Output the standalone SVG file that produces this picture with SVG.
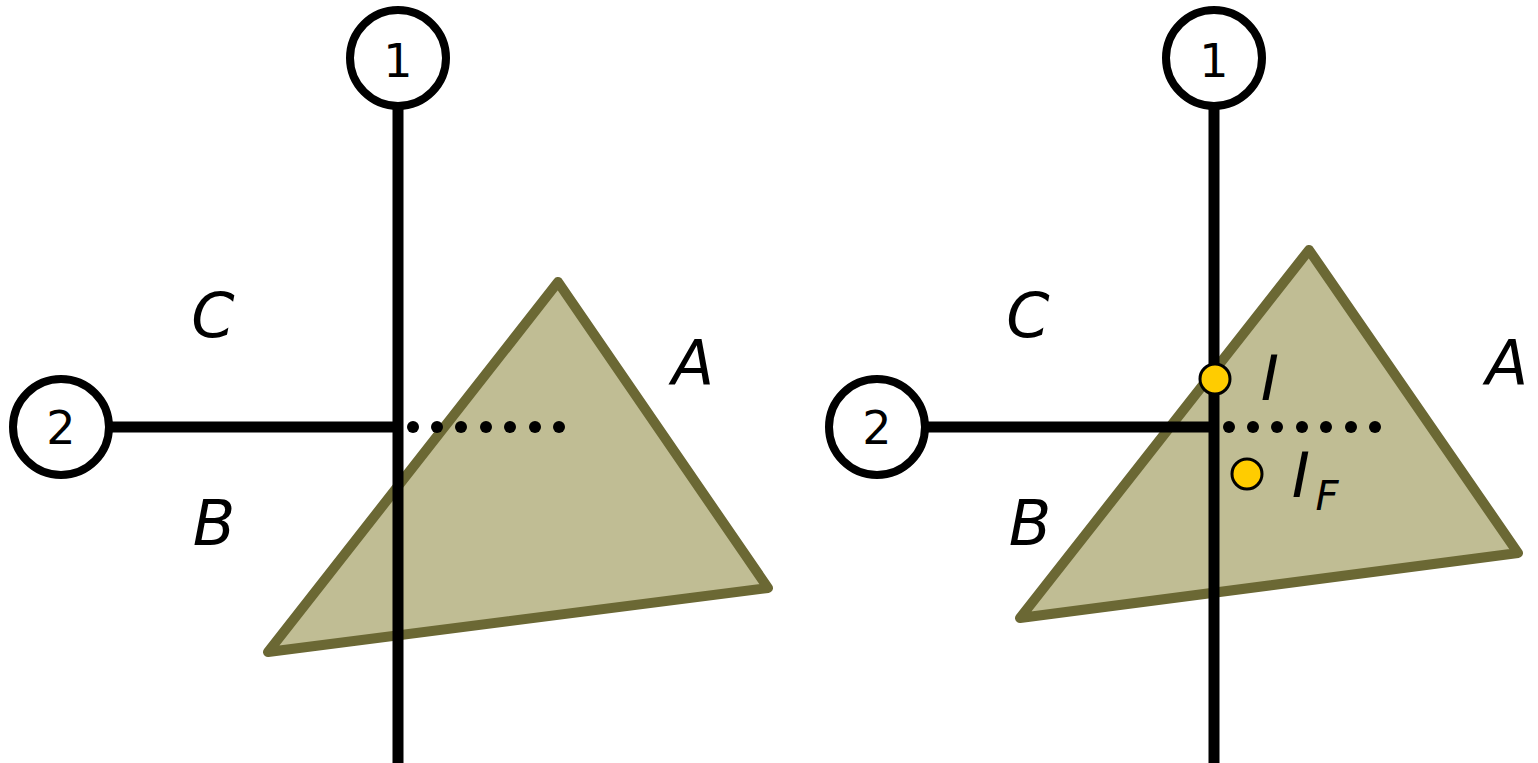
<svg xmlns="http://www.w3.org/2000/svg" width="1538" height="763" viewBox="0 0 1538 763">
<style>
.tri{fill:#c0bd94;stroke:#6b6834;stroke-width:10;stroke-linejoin:round}
.ln{stroke:#000;stroke-width:11;fill:none}
.node{fill:#fff;stroke:#000;stroke-width:8}
.num{font-family:"DejaVu Sans",sans-serif;font-size:46px;text-anchor:middle;fill:#000}
.lab{font-family:"DejaVu Sans",sans-serif;font-style:italic;font-size:62px;text-anchor:middle;fill:#000}
.dot{fill:#000}
.pt{fill:#ffcc00;stroke:#000;stroke-width:3}
</style>
<rect width="1538" height="763" fill="#fff"/>
<g id="triangle-left"><polygon class="tri" points="558,282 768,588 268,652"/></g>
<g id="triangle-right"><polygon class="tri" points="1309,250 1518,553 1020,618"/></g>
<g id="connectors">
<line class="ln" x1="398" y1="104" x2="398" y2="763"/>
<line class="ln" x1="108" y1="427" x2="398" y2="427"/>
<line class="ln" x1="1214" y1="104" x2="1214" y2="763"/>
<line class="ln" x1="924" y1="427" x2="1214" y2="427"/>
<g class="dot">
<circle cx="413" cy="427" r="6"/><circle cx="437" cy="427" r="6"/><circle cx="461" cy="427" r="6"/><circle cx="486" cy="427" r="6"/><circle cx="510" cy="427" r="6"/><circle cx="535" cy="427" r="6"/><circle cx="559" cy="427" r="6"/>
<circle cx="1229" cy="427" r="6"/><circle cx="1253" cy="427" r="6"/><circle cx="1277" cy="427" r="6"/><circle cx="1302" cy="427" r="6"/><circle cx="1326" cy="427" r="6"/><circle cx="1351" cy="427" r="6"/><circle cx="1375" cy="427" r="6"/>
</g>
</g>
<g id="node-1-left"><circle class="node" cx="398" cy="58" r="48"/><text class="num" x="398" y="77">1</text></g>
<g id="node-2-left"><circle class="node" cx="61" cy="427" r="48"/><text class="num" x="61" y="444">2</text></g>
<g id="node-1-right"><circle class="node" cx="1214" cy="58" r="48"/><text class="num" x="1214" y="77">1</text></g>
<g id="node-2-right"><circle class="node" cx="877" cy="427" r="48"/><text class="num" x="877" y="444">2</text></g>
<g id="labels">
<text class="lab" x="213" y="337">C</text>
<text class="lab" x="214" y="545">B</text>
<text class="lab" x="693" y="385">A</text>
<text class="lab" x="1028" y="337">C</text>
<text class="lab" x="1030" y="545">B</text>
<text class="lab" x="1507" y="385">A</text>
<text class="lab" x="1270" y="400">I</text>
<text class="lab" x="1301" y="497">I</text>
<text class="lab" x="1327" y="510" style="font-size:40px">F</text>
</g>
<g id="point-I"><circle class="pt" cx="1215" cy="379" r="15"/></g>
<g id="point-IF"><circle class="pt" cx="1247" cy="474" r="15"/></g>
</svg>
